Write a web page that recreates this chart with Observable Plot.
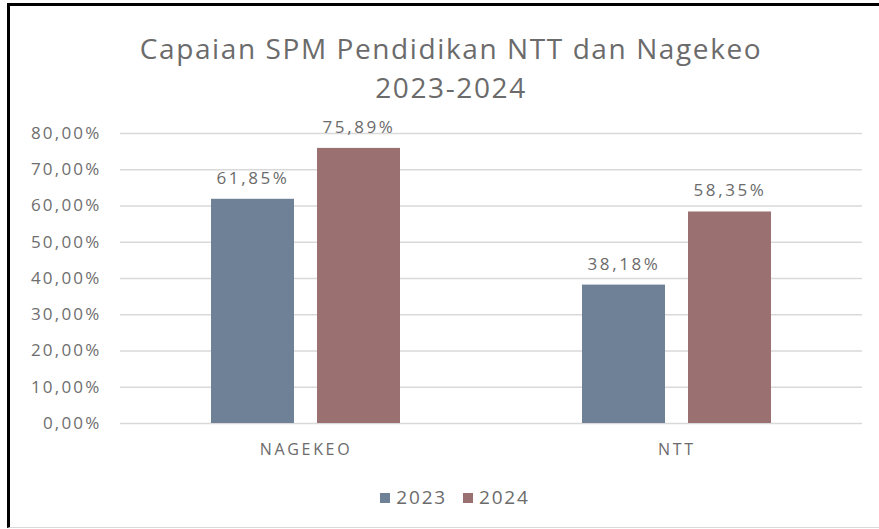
<!DOCTYPE html>
<html>
<head>
<meta charset="utf-8">
<script src="https://cdn.jsdelivr.net/npm/d3@7"></script>
<script src="https://cdn.jsdelivr.net/npm/@observablehq/plot@0.6"></script>
<style>
  html, body { margin: 0; padding: 0; background: #fff; width: 879px; height: 529px; overflow: hidden; }
  body { position: relative; font-family: "Open Sans", sans-serif; }
  #frame { position: absolute; left: 7px; top: 3px; width: 880px; height: 521px;
           border-top: 3px solid #000; border-left: 3px solid #000; border-bottom: 1px solid #d9d9d9; box-sizing: content-box; }
  #title { position: absolute; left: 0; width: 902px; top: 29px; text-align: center; color: #6b6b6b;
           font-size: 28px; line-height: 39px; letter-spacing: 1.6px; }
  #chart { position: absolute; left: 0; top: 0; }
  #chart g[aria-label="y-axis tick label"] text { letter-spacing: 2.2px; }
  #chart g[aria-label="fx-axis tick label"] text { letter-spacing: 2.7px; }
  #chart g[aria-label="text"] text { letter-spacing: 2.6px; }
  #legend { position: absolute; top: 484px; left: 0; width: 910px; text-align: center; color: #6b6b6b;
            font-size: 19px; letter-spacing: 1.8px; }
  #legend span.sw { display: inline-block; width: 10px; height: 10px; margin-right: 6px; vertical-align: 1px; }
  #legend span.item { margin: 0 8px; }
</style>
</head>
<body>
<div id="frame"></div>
<div id="title">Capaian SPM Pendidikan NTT dan Nagekeo<br>2023-2024</div>
<div id="chart"></div>
<div id="legend"></div>
<script>
const categories = ["NAGEKEO", "NTT"];
const years = ["2023", "2024"];
const values2023 = [61.85, 38.18];
const values2024 = [75.89, 58.35];
const yTicks = [0, 10, 20, 30, 40, 50, 60, 70, 80];
const colors = ["#6f8197", "#9b7070"];

const data = [];
categories.forEach((c, i) => {
  data.push({category: c, year: years[0], value: values2023[i]});
  data.push({category: c, year: years[1], value: values2024[i]});
});
const fmt = v => v.toFixed(2).replace(".", ",") + "%";

const plot = Plot.plot({
  width: 879,
  height: 473,
  marginLeft: 120,
  marginRight: 17,
  marginTop: 133,
  marginBottom: 50,
  style: {fontFamily: "Open Sans, sans-serif", color: "#6b6b6b", background: "transparent"},
  fx: {domain: categories, padding: 0, label: null},
  x: {domain: years, paddingInner: 0.217, paddingOuter: 0.858, axis: null},
  y: {domain: [0, 80], label: null},
  color: {domain: years, range: colors},
  marks: [
    Plot.gridY(yTicks, {stroke: "#d9d9d9", strokeOpacity: 1, strokeWidth: 1.5}),
    Plot.axisY(yTicks, {tickSize: 0, tickPadding: 19, tickFormat: fmt, fontSize: 17, fill: "#6e6e6e", label: null}),
    Plot.axisFx({anchor: "bottom", tickSize: 0, tickPadding: 20, fontSize: 16, fill: "#6b6b6b", label: null}),
    Plot.barY(data, {fx: "category", x: "year", y: "value", fill: "year"}),
    Plot.text(data, {fx: "category", x: "year", y: "value", text: d => fmt(d.value), dy: -21, fontSize: 17, fill: "#6b6b6b"})
  ]
});
document.getElementById("chart").appendChild(plot);

const legend = document.getElementById("legend");
years.forEach((y, i) => {
  const item = document.createElement("span");
  item.className = "item";
  const sw = document.createElement("span");
  sw.className = "sw";
  sw.style.background = colors[i];
  item.appendChild(sw);
  item.appendChild(document.createTextNode(y));
  legend.appendChild(item);
});
</script>
</body>
</html>
